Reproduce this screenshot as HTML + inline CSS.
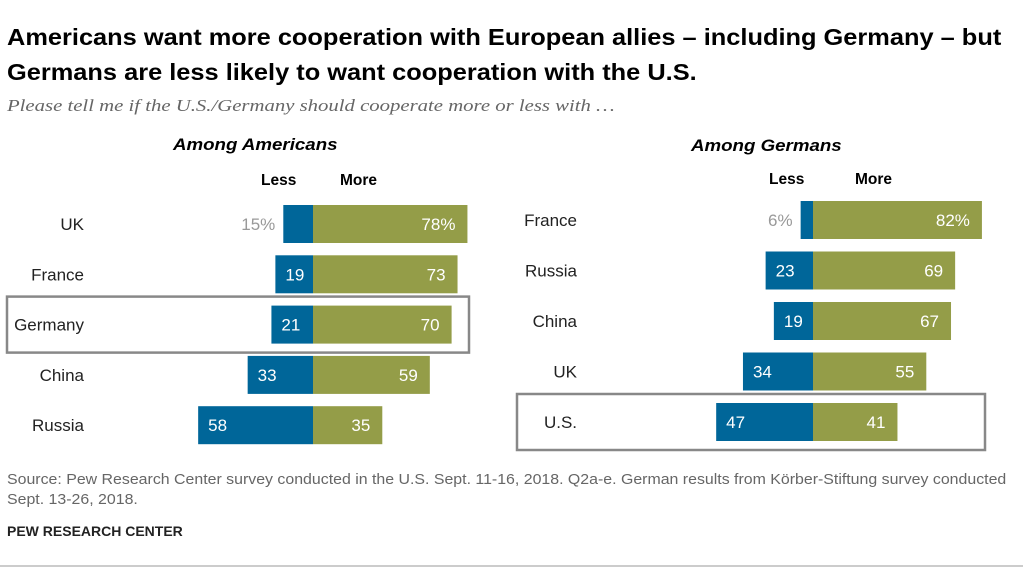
<!DOCTYPE html>
<html><head><meta charset="utf-8">
<style>
body{margin:0;background:#fff;width:1023px;height:569px;overflow:hidden;font-family:"Liberation Sans",sans-serif;position:relative}
.t{position:absolute;white-space:nowrap;transform-origin:0 0}
#title{left:7px;top:20px;font-size:23.5px;font-weight:bold;line-height:35px;color:#000;transform:scaleX(1.08)}
#sub{left:7px;top:96px;font-family:"Liberation Serif",serif;font-style:italic;font-size:17px;color:#666;transform:scaleX(1.22)}
.hd{font-weight:bold;font-style:italic;font-size:17px;transform:scaleX(1.1)}
.lm{font-weight:bold;font-size:15.5px}
.src{left:7px;top:470px;font-size:15px;color:#666;line-height:20px;transform:scaleX(1.06)}
svg{position:absolute;left:0;top:0}
</style></head><body>
<div class="t" id="title">Americans want more cooperation with European allies – including Germany – but<br>Germans are less likely to want cooperation with the U.S.</div>
<div class="t" id="sub">Please tell me if the U.S./Germany should cooperate more or less with …</div>
<div class="t hd" style="left:173px;top:135px">Among Americans</div>
<div class="t hd" style="left:691px;top:136px">Among Germans</div>
<div class="t lm" style="left:261px;top:172px">Less</div>
<div class="t lm" style="left:340px;top:172px">More</div>
<div class="t lm" style="left:769px;top:171px">Less</div>
<div class="t lm" style="left:855px;top:171px">More</div>
<div class="t src">Source: Pew Research Center survey conducted in the U.S. Sept. 11-16, 2018. Q2a-e. German results from Körber-Stiftung survey conducted<br>Sept. 13-26, 2018.</div>
<div class="t" style="left:7px;top:523px;font-size:14px;font-weight:bold;color:#222">PEW RESEARCH CENTER</div>
<svg id="chart" width="1023" height="569">
<line x1="0" y1="566" x2="1023" y2="566" stroke="#999" stroke-width="1"/>
</svg>
<script>
const usCats=["UK","France","Germany","China","Russia"];
const usLess=[15,19,21,33,58];
const usMore=[78,73,70,59,35];
const deCats=["France","Russia","China","UK","U.S."];
const deLess=[6,23,19,34,47];
const deMore=[82,69,67,55,41];
const svg=document.getElementById('chart');
const NS="http://www.w3.org/2000/svg";
function el(tag,attrs){const e=document.createElementNS(NS,tag);for(const k in attrs)e.setAttribute(k,attrs[k]);svg.appendChild(e);return e;}
function panel(cats,less,more,cx,scale,y0,pitch,labelX,hl,box,pfx){
  const xs=v=>v*scale;
  cats.forEach((c,i)=>{
    const y=y0+i*pitch,h=38;
    if(c===hl){const b=el('rect',{x:box[0],y:y-9,width:box[1]-box[0],height:h+18,fill:'none',stroke:'#888','stroke-width':2.5});
      
      }
    const lb=el('rect',{x:cx-xs(less[i]),y:y,width:xs(less[i]),height:h,fill:'#006699'});
    
    
    const mb=el('rect',{x:cx,y:y,width:xs(more[i]),height:h,fill:'#949d48'});
    
    
    const first=i===0;
    const small=xs(less[i])<36;
    const lt=el('text',{x:small?cx-xs(less[i])-8:cx-xs(less[i])+10,y:y+h/2+6,'font-size':17,fill:small?'#999':'#fff','text-anchor':small?'end':'start','font-family':'Liberation Sans'});
    lt.textContent=less[i]+(first?'%':'');
    
    
    const mt=el('text',{x:cx+xs(more[i])-12,y:y+h/2+6,'font-size':17,fill:'#fff','text-anchor':'end','font-family':'Liberation Sans'});
    mt.textContent=more[i]+(first?'%':'');
    
    
    const ct=el('text',{x:labelX,y:y+h/2+6,'font-size':17,fill:'#222','text-anchor':'end','font-family':'Liberation Sans'});
    ct.textContent=c;
    
    
  });
}
panel(usCats,usLess,usMore,313,1.98,205,50.3,84,"Germany",[7,469],'us');
panel(deCats,deLess,deMore,813,2.06,201,50.5,577,"U.S.",[517,985],'de');
</script>
</body></html>
